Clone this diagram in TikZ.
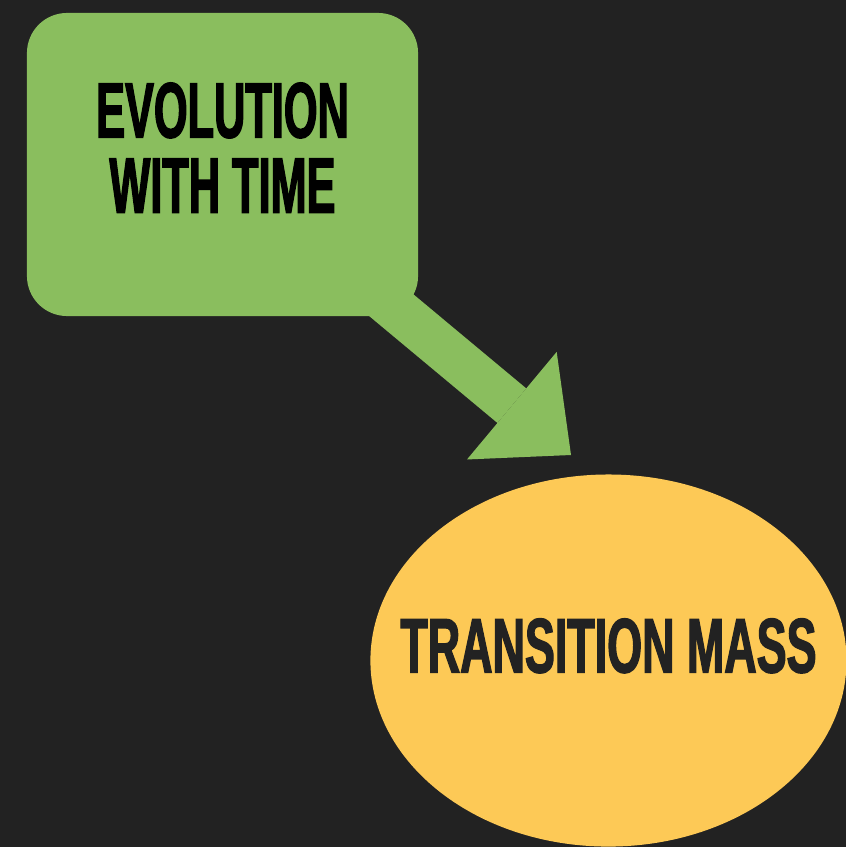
\documentclass[tikz,border=0pt]{standalone}
\usepackage{fontspec}
\usetikzlibrary{arrows.meta,shapes.geometric,positioning}

\newfontfamily\condfont{Liberation Sans Bold}[FakeStretch=0.55,FakeBold=1.6]
\newfontfamily\masscondfont{Liberation Sans Bold}[FakeStretch=0.58,FakeBold=1.6]

\definecolor{bgdark}{HTML}{222222}
\definecolor{boxgreen}{HTML}{8ABE5E}
\definecolor{massyellow}{HTML}{FDC956}

\begin{document}
\begin{tikzpicture}[
    x=0.025cm, y=-0.025cm,
    box/.style={rectangle,rounded corners=1cm,fill=boxgreen,minimum width=9.775cm,minimum height=7.575cm,inner sep=0pt,align=center,text=black,font=\condfont\fontsize{56}{53.4}\selectfont,text depth=24pt},
    mass/.style={ellipse,fill=massyellow,minimum width=11.9cm,minimum height=9.3cm,inner ysep=0pt,inner xsep=-1.6cm,text=bgdark,font=\masscondfont\fontsize{55}{60}\selectfont,text depth=21.4pt},
    flow/.style={-{Triangle[length=1.925cm,width=3.5cm,line width=0pt]},line width=1.125cm,draw=boxgreen}
]

% Canvas
\useasboundingbox (0,0) rectangle (846,847);
\fill[bgdark] (0,0) rectangle (846,847);
\clip (0,0) rectangle (846,847);

% Nodes
\node[box] (evolution) at (222.5,164.5) {EVOLUTION\\WITH TIME};
\node[mass, below right=5.31cm and 0.54cm of evolution] (mass) {TRANSITION MASS};

% Arrow head position
\coordinate (tip) at (571,455);

% Connection
\draw[flow, shorten <=3.75cm] (evolution.center) -- (tip);

\end{tikzpicture}
\end{document}
